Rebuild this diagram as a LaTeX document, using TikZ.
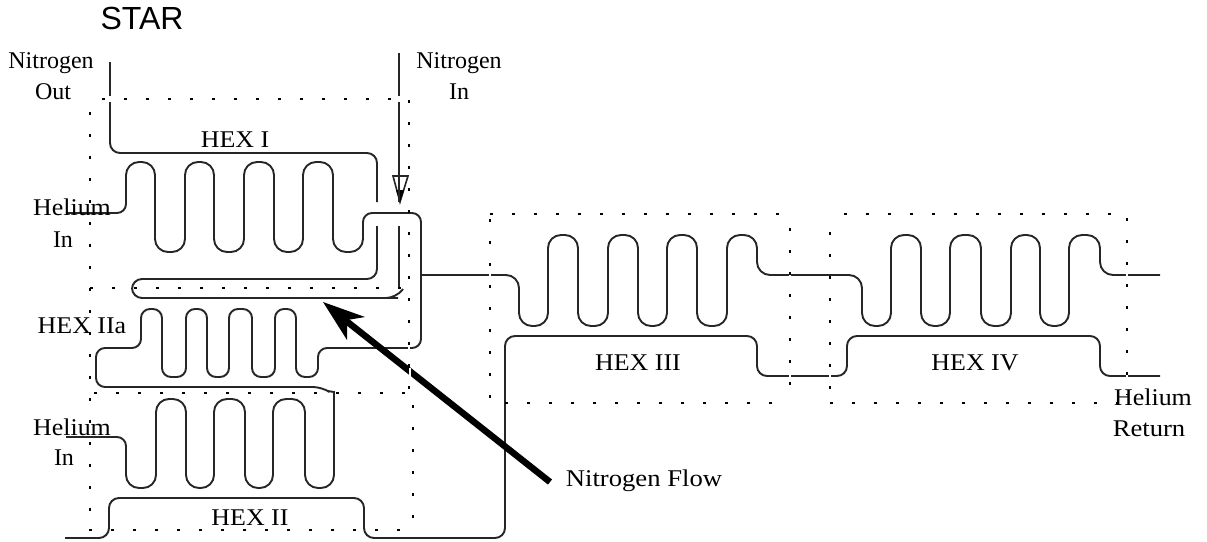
\documentclass[tikz,border=0pt]{standalone}
\usepackage{fontspec}
\setmainfont{Liberation Serif}
\newfontfamily\starfont{Liberation Sans}
\newfontfamily\widea[FakeStretch=1.08]{Liberation Serif}
\newfontfamily\wideb[FakeStretch=1.11]{Liberation Serif}
\tikzset{
  lbl/.style={inner sep=0pt,font=\fontsize{24}{24}\selectfont,text=black},
  wlbl/.style={inner sep=0pt,font=\fontsize{24}{24}\selectfont\widea,text=black},
  xlbl/.style={inner sep=0pt,font=\fontsize{24}{24}\selectfont\wideb,text=black},
  pipe/.style={line width=1.9pt,draw=black!85,rounded corners=12pt},
  dotbox/.style={line width=1.5pt,draw=black,dash pattern=on 2.5pt off 19.5pt},
  gapmark/.style={line width=2.2pt,draw=white},
}
\begin{document}
\begin{tikzpicture}[x=1pt,y=-1pt]
\useasboundingbox (0,0) rectangle (1207,541);
% nitrogen
\draw[pipe,rounded corners=10pt] (110,62) -- (110,153) -- (377,153) -- (377,202);
\draw[pipe,rounded corners=10pt] (377,226) -- (377,279) -- (132,279) -- (132,298) -- (388,298) -- (396,298) -- (403,289);
\draw[pipe] (399,226) -- (399,288);
\draw[line width=1.6pt,draw=black!85,fill=white] (393,176) -- (408,176) -- (400,202) -- cycle;
\fill[black] (396,190) -- (404,190) -- (400,202) -- cycle;
\draw[line width=1.9pt,draw=black!85] (399,53) -- (399,202);
% helium I to IIa to II
\draw[pipe] (67,213) [rounded corners=9pt] -- (126,213) [rounded corners=13pt] -- (126,162) -- (155,162) -- (155,252) -- (185,252) -- (185,162) -- (214,162) -- (214,252) -- (244,252) -- (244,162) -- (274,162) -- (274,252) -- (303,252) -- (303,162) -- (333,162) -- (333,252) -- (363,252) [rounded corners=9pt] -- (363,213) -- (421,213) -- (421,348) -- (318,348) -- (318,377) -- (296,377) -- (296,309) -- (275,309) -- (275,377) -- (252,377) -- (252,309) -- (229,309) -- (229,377) -- (207,377) -- (207,309) -- (186,309) -- (186,377) -- (162,377) -- (162,309) -- (141,309) -- (141,348) -- (96,348) -- (96,387) -- (322,387) [sharp corners] -- (328,391) -- (334,392) [rounded corners=13pt] -- (334,488) -- (305,488) -- (305,399) -- (273,399) -- (273,488) -- (245,488) -- (245,399) -- (214,399) -- (214,488) -- (186,488) -- (186,399) -- (156,399) -- (156,488) -- (126,488) [rounded corners=9pt] -- (126,437) -- (66,437);
% III and IV coil
\draw[pipe,rounded corners=13pt] (421,275) -- (519,275) -- (519,326) -- (548,326) -- (548,235) -- (578,235) -- (578,326) -- (608,326) -- (608,235) -- (638,235) -- (638,326) -- (667,326) -- (667,235) -- (697,235) -- (697,326) -- (727,326) -- (727,235) -- (757,235) -- (757,275) -- (862,275) -- (862,326) -- (891,326) -- (891,235) -- (921,235) -- (921,326) -- (950,326) -- (950,235) -- (981,235) -- (981,326) -- (1011,326) -- (1011,235) -- (1040,235) -- (1040,326) -- (1069,326) -- (1069,235) -- (1100,235) -- (1100,275) -- (1160,275);
% lower
\draw[pipe,rounded corners=10pt] (65,538) -- (109,538) -- (109,498) -- (364,498) -- (364,538) -- (505,538) -- (505,336) -- (757,336) -- (757,376) -- (847,376) -- (847,336) -- (1100,336) -- (1100,376) -- (1160,376);
% heavy arrow
\draw[line width=6.5pt,draw=black] (550,482) -- (345,320);
\fill[black] (323,302) -- (365,317) -- (347,320) -- (347,340) -- cycle;
% small white gaps where the dotted boxes cross
\draw[gapmark] (409,344) -- (409,352);
\draw[gapmark,line width=1.5pt] (410,368) -- (410,377);
\draw[gapmark] (110,96) -- (110,102);
\draw[gapmark] (399,96) -- (399,102);
\draw[gapmark] (490,272) -- (490,278);
\draw[gapmark] (790,272) -- (790,278);
\draw[gapmark] (1127,272) -- (1127,278);
\draw[gapmark] (1127,373) -- (1127,379);
\draw[gapmark] (790,373) -- (790,379);
\draw[gapmark] (830,373) -- (830,379);
% dotted boxes
\draw[dotbox] (102,99) -- (409,99);
\draw[dotbox] (409,100) -- (409,393);
\draw[dotbox] (90,112) -- (90,530);
\draw[dotbox] (90,288) -- (409,288);
\draw[dotbox] (94,393) -- (409,393);
\draw[dotbox] (89,530) -- (400,530);
\draw[dotbox] (413,405) -- (413,518);
\draw[dotbox] (490,214) -- (790,214);
\draw[dotbox] (490,219) -- (490,400);
\draw[dotbox] (790,228) -- (790,403);
\draw[dotbox] (505,403) -- (790,403);
\draw[dotbox] (844,214) -- (1127,214);
\draw[dotbox] (830,232) -- (830,403);
\draw[dotbox] (1127,218) -- (1127,395);
\draw[dotbox] (830,403) -- (1120,403);
% labels
\node[inner sep=0pt,font=\fontsize{32}{32}\selectfont\starfont] (star) at (142,18) {STAR};
\node[lbl] (n1a) at (51,63) {Nitrogen};
\node[lbl] (n1b) at (53,92) {Out};
\node[lbl] (n2a) at (459,63) {Nitrogen};
\node[lbl] (n2b) at (459,92) {In};
\node[wlbl] (h1) at (235,140) {HEX I};
\node[wlbl] (he1a) at (72,207) {Helium};
\node[lbl] (he1b) at (63,240) {In};
\node[wlbl] (h2a) at (82,326) {HEX IIa};
\node[wlbl] (he2a) at (72,427) {Helium};
\node[lbl] (he2b) at (64,458) {In};
\node[wlbl] (h2) at (250,518) {HEX II};
\node[wlbl] (h3) at (638,363) {HEX III};
\node[wlbl] (h4) at (975,363) {HEX IV};
\node[wlbl] (he3a) at (1153,397) {Helium};
\node[xlbl] (he3b) at (1149,429) {Return};
\node[xlbl] (nf) at (644,481) {Nitrogen Flow};
\end{tikzpicture}
\end{document}
